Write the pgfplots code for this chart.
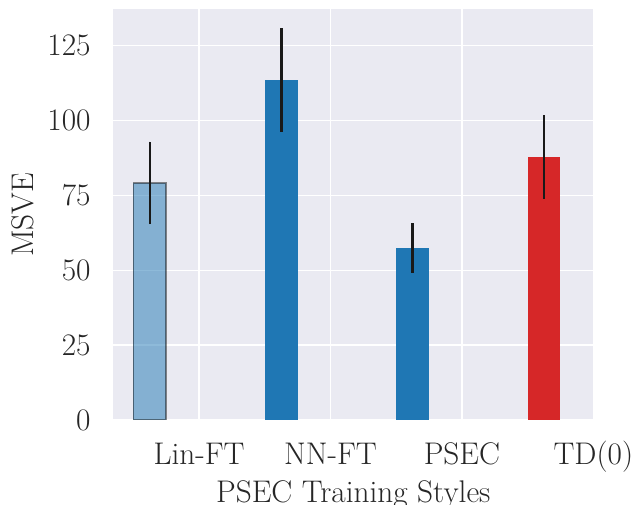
\documentclass[border=0pt]{standalone}
\usepackage{fontspec}
\usepackage{pgfplots}
\pgfplotsset{compat=1.18}
\definecolor{bgc}{HTML}{EAEAF2}
\definecolor{cblue}{HTML}{1F77B4}
\definecolor{cred}{HTML}{D62728}
\definecolor{txt}{HTML}{262626}
\begin{document}
\begin{tikzpicture}
\begin{axis}[
  at={(0,0)}, anchor=south west,
  width=480pt, height=410.7pt, scale only axis,
  xmin=-0.653, xmax=3, ymin=0, ymax=137.1,
  xtick={0,1,2,3}, xticklabels={Lin-FT,NN-FT,PSEC,TD(0)},
  ytick={0,25,50,75,100,125},
  /pgf/number format/assume math mode=true,
  axis background/.style={fill=bgc},
  axis line style={draw=none},
  major tick length=0pt,
  grid=major,
  major grid style={white, line width=1.3pt},
  font=\fontsize{31.3}{36}\selectfont,
  every tick label/.append style={text=txt},
  yticklabel style={anchor=east, inner sep=0pt, xshift=-22.6pt},
  xticklabel style={anchor=base, inner sep=0pt, yshift=-44.3pt},
  xlabel={PSEC Training Styles},
  ylabel={MSVE},
  xlabel style={at={([yshift=-82.5pt]axis description cs:0.5,0)}, anchor=base, inner sep=0pt, text=txt},
  ylabel style={at={([xshift=-79.3pt]axis description cs:0,0.5)}, anchor=base, rotate=0, inner sep=0pt, text=txt},
]
\addplot[ybar, bar width=0.25, bar shift=0pt, fill=cblue, fill opacity=0.5, draw=black, draw opacity=0.45, line width=1.8pt,
  error bars/.cd, y dir=both, y explicit, error mark=none,
  error bar style={line width=2.6pt, black!90, opacity=1, draw opacity=1}]
  coordinates {(-0.375,79.2) += (0,13.7) -= (0,13.8)};
\addplot[ybar, bar width=0.25, bar shift=0pt, fill=cblue, draw=none,
  error bars/.cd, y dir=both, y explicit, error mark=none,
  error bar style={line width=2.6pt, black!90}]
  coordinates {(0.625,113.5) += (0,17.3) -= (0,17.3)};
\addplot[ybar, bar width=0.25, bar shift=0pt, fill=cblue, draw=none,
  error bars/.cd, y dir=both, y explicit, error mark=none,
  error bar style={line width=2.6pt, black!90}]
  coordinates {(1.625,57.4) += (0,8.3) -= (0,8.2)};
\addplot[ybar, bar width=0.25, bar shift=0pt, fill=cred, draw=none,
  error bars/.cd, y dir=both, y explicit, error mark=none,
  error bar style={line width=2.6pt, black!90}]
  coordinates {(2.625,87.8) += (0,14.0) -= (0,14.0)};
\end{axis}
\pgfresetboundingbox
\useasboundingbox (-113.3pt,-85pt) rectangle (520.7pt,420pt);
\end{tikzpicture}
\end{document}
